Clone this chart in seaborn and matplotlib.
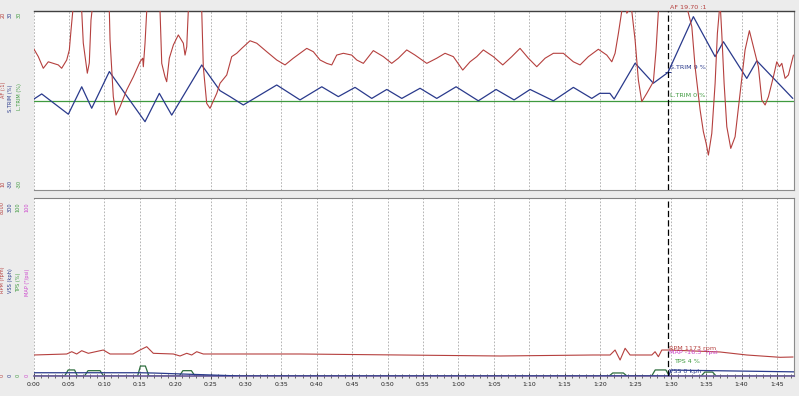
import matplotlib
matplotlib.use("Agg")
import matplotlib.pyplot as plt
import pandas as pd
import seaborn as sns
from matplotlib.ticker import MultipleLocator, FuncFormatter

# ---------------- data (time in seconds) ----------------
af_t = [0.0, 0.68, 1.38, 2.09, 2.80, 3.50, 3.98, 4.69, 5.06, 5.30, 5.54, 6.14, 6.81, 7.03, 7.60, 7.88,
        8.12, 8.26, 9.39, 10.71, 10.81, 11.27, 11.65, 12.22, 13.16, 14.10, 15.04, 15.42, 15.51, 15.75,
        15.99, 16.88, 17.87, 18.11, 18.57, 18.81, 19.18, 19.75, 20.45, 21.16, 21.40, 21.64, 21.86, 22.81,
        23.76, 23.98, 24.46, 24.93, 25.88, 26.34, 27.29, 27.99, 28.70, 29.41, 30.58, 31.53, 32.94, 34.35,
        35.52, 36.69, 37.64, 38.59, 39.52, 40.47, 41.41, 42.12, 42.82, 43.76, 44.94, 45.65, 46.58, 47.99,
        49.41, 50.59, 51.53, 52.71, 53.88, 55.54, 56.95, 58.12, 59.29, 60.62, 61.65, 62.60, 63.53, 64.94,
        66.27, 67.54, 68.71, 69.89, 71.07, 72.25, 73.42, 74.83, 76.24, 77.19, 78.36, 79.77, 80.96, 81.67,
        82.13, 82.60, 83.08, 83.40, 83.79, 84.01, 84.25, 84.49, 84.96, 85.42, 85.90, 86.61, 87.54, 87.92,
        88.25, 90.20, 92.49, 92.97, 93.43, 94.14, 94.60, 94.99, 95.31, 95.79, 96.26, 96.58, 96.96, 97.20,
        97.53, 97.91, 98.47, 99.08, 99.79, 100.49, 101.10, 101.67, 102.37, 102.85, 103.32, 103.79, 104.49,
        104.97, 105.34, 105.68, 106.14, 106.61, 107.32]
af_v = [16.33, 15.96, 15.44, 15.73, 15.66, 15.59, 15.44, 15.81, 16.26, 17.15, 17.97, 19.6, 18.0, 16.57,
        15.22, 15.68, 17.60, 18.0, 19.6, 18.0, 16.70, 14.17, 13.35, 13.72, 14.47, 15.06, 15.73, 15.89,
        15.51, 16.56, 18.0, 19.6, 18.0, 15.66, 15.06, 14.84, 15.89, 16.48, 16.93, 16.56, 16.03, 16.40,
        18.0, 19.6, 18.0, 15.51, 13.87, 13.65, 14.32, 14.77, 15.14, 15.96, 16.11, 16.33, 16.67, 16.56,
        16.18, 15.81, 15.59, 15.89, 16.11, 16.33, 16.18, 15.81, 15.66, 15.59, 16.03, 16.11, 16.03, 15.81,
        15.66, 16.23, 15.96, 15.66, 15.89, 16.26, 16.03, 15.66, 15.89, 16.11, 15.96, 15.36, 15.73, 15.96,
        16.26, 15.96, 15.59, 15.96, 16.33, 15.89, 15.51, 15.89, 16.11, 16.11, 15.73, 15.59, 15.96, 16.29,
        16.03, 15.73, 16.11, 17.00, 18.0, 19.0, 17.90, 18.0, 19.0, 18.0, 16.70, 14.92, 13.95, 14.32,
        14.84, 16.26, 18.0, 20.5, 17.90, 17.30, 15.51, 13.58, 12.61, 12.09, 11.56, 12.53, 14.77, 17.00,
        18.4, 17.00, 14.77, 12.83, 11.86, 12.38, 14.32, 16.26, 17.12, 16.40, 15.51, 14.02, 13.80, 14.17,
        15.06, 15.73, 15.51, 15.66, 14.99, 15.14, 16.03]

st_t = [0.0, 1.16, 4.92, 6.81, 8.22, 10.71, 15.75, 17.77, 19.52, 23.76, 26.34, 27.75, 29.63, 34.35,
        37.64, 40.71, 43.05, 45.41, 47.77, 49.89, 52.01, 54.59, 56.95, 59.68, 62.82, 65.33, 67.87, 70.13,
        73.42, 76.24, 78.84, 79.96, 81.40, 82.00, 84.96, 87.54, 89.60, 93.19, 96.26, 97.43, 100.73,
        102.15, 107.23]
st_v = [0.4, 2.2, -4.6, 4.6, -2.6, 9.7, -7.1, 2.4, -4.9, 11.9, 3.3, 1.3, -1.5, 5.2, 0.2, 4.6, 1.3, 4.4,
        0.7, 3.7, 0.7, 4.1, 0.7, 4.6, -0.1, 3.7, 0.2, 3.7, -0.1, 4.4, 0.7, 2.4, 2.4, 0.5, 12.5, 5.8, 9.4,
        28.1, 14.7, 19.7, 7.4, 13.3, 0.7]

lt_t = [0.0, 107.4]
lt_v = [0.0, 0.0]

rpm_t = [0.0, 4.69, 5.40, 6.10, 6.81, 7.74, 9.86, 10.81, 14.05, 15.04, 15.99, 16.92, 19.75, 20.69,
         21.64, 22.34, 23.05, 23.98, 37.64, 51.77, 65.89, 79.03, 81.43, 82.13, 82.84, 83.55, 84.25,
         87.32, 87.78, 88.25, 88.73, 89.66, 96.96, 100.73, 105.44, 107.27]
rpm_v = [944, 989, 1092, 989, 1137, 1020, 1168, 989, 989, 1168, 1317, 1020, 989, 899, 1020, 944, 1092,
         989, 989, 944, 899, 944, 944, 1168, 719, 1245, 944, 944, 1092, 867, 1168, 1168, 1079, 944, 840,
         854]

vss_t = [0.0, 15.0, 17.0, 29.3, 89.7, 90.0, 107.4]
vss_v = [5.5, 5.5, 5.0, 0.0, 0.0, 10.0, 7.0]

tps_t = [0, 4.4, 4.9, 5.8, 6.2, 7.2, 7.7, 9.4, 9.9, 14.7, 15.1, 15.8, 16.3, 20.6, 21.1, 22.3, 22.8,
         81.3, 81.8, 83.3, 83.8, 87.3, 87.8, 89.3, 89.8, 94.3, 94.8, 95.9, 96.4, 107.4]
tps_v = [0, 0, 3.4, 3.4, 0, 0, 3.0, 3.0, 0, 0, 5.6, 5.6, 0, 0, 3.0, 3.0, 0, 0, 1.7, 1.7, 0, 0, 3.4, 3.4,
         0, 0, 2.2, 2.2, 0, 0]

cursor_t = 89.6
top_labels = ["AF 19.70 :1", "S.TRIM 9 %", "L.TRIM 0 %"]
bot_labels = ["RPM 1173 rpm", "MAP -16.3 \"/psi", "TPS 4 %", "VSS 0 kph"]

# ---------------- style ----------------
sns.set_theme(style="white")
plt.rcParams['font.family'] = ['DejaVu Sans']

RED = '#b5403e'
BLUE = '#2a3a8c'
GREEN = '#3f9a3f'
DGREEN = '#2e6e3e'
MAG = '#cc44cc'
BG = '#ececec'
GRID = '#a8a8a8'

W, H = 799, 396
fig = plt.figure(figsize=(W / 100, H / 100), dpi=100, facecolor=BG)

def fx(px):
    return px / W

def fy(py):
    return 1 - py / H

X0, X1 = 33.5, 794
XMAX = 107.4
ax_top = fig.add_axes([fx(X0), fy(190), fx(X1) - fx(X0), (190 - 11) / H])
ax_bot = fig.add_axes([fx(X0), fy(376), fx(X1) - fx(X0), (376 - 198) / H])

for ax in (ax_top, ax_bot):
    ax.set_facecolor('white')
    ax.xaxis.set_major_locator(MultipleLocator(5))
    ax.grid(axis='x', color=GRID, lw=0.6, ls=(0, (2, 2)))
    ax.grid(axis='y', visible=False)
    ax.set_yticks([])
    for s in ax.spines.values():
        s.set_visible(True)
        s.set_linewidth(0.8)
    ax.spines['left'].set_visible(False)
    ax.spines['right'].set_color('#8c8c8c')

# ---- top panel ----
ax_af = ax_top.twinx()
sns.lineplot(x=lt_t, y=lt_v, ax=ax_top, color=GREEN, lw=0.9, estimator=None)
sns.lineplot(x=st_t, y=st_v, ax=ax_top, color=BLUE, lw=0.9, estimator=None)
sns.lineplot(x=af_t, y=af_v, ax=ax_af, color=RED, lw=0.8, estimator=None)
ax_top.set_ylim(-30, 30)
ax_af.set_ylim(10, 18)
ax_top.spines['top'].set_color('#404040')
ax_top.spines['top'].set_linewidth(1.0)
ax_top.spines['bottom'].set_color('#8c8c8c')
ax_top.tick_params(axis='x', length=0, labelbottom=False)

# ---- bottom panel ----
ax_rpm = ax_bot.twinx()
ax_vss = ax_bot.twinx()
sns.lineplot(x=tps_t, y=tps_v, ax=ax_bot, color=DGREEN, lw=0.9, estimator=None)
sns.lineplot(x=rpm_t, y=rpm_v, ax=ax_rpm, color=RED, lw=0.8, estimator=None)
sns.lineplot(x=vss_t, y=vss_v, ax=ax_vss, color=BLUE, lw=0.9, estimator=None)
ax_bot.set_ylim(0, 100)
ax_rpm.set_ylim(0, 8000)
ax_vss.set_ylim(0, 300)
ax_bot.spines['top'].set_color('#808080')
ax_bot.spines['bottom'].set_color('#6a5a9a')
ax_bot.spines['bottom'].set_linewidth(1.2)
ax_bot.xaxis.set_minor_locator(MultipleLocator(1))
ax_bot.xaxis.set_major_formatter(FuncFormatter(lambda v, p: f"{int(round(v)) // 60}:{int(round(v)) % 60:02d}"))
ax_bot.tick_params(axis='x', which='major', bottom=True, direction='inout', length=4, width=0.6,
                   color='#303030', labelsize=4.4, pad=2.5, labelcolor='#202020')
ax_bot.tick_params(axis='x', which='minor', bottom=True, direction='inout', length=2.5, width=0.5,
                   color='#303030')

for tw in (ax_af, ax_rpm, ax_vss):
    tw.set_yticks([])
    tw.tick_params(right=False, labelright=False)
    for s in tw.spines.values():
        s.set_visible(False)
    tw.grid(False)

for ax in (ax_top, ax_bot, ax_af, ax_rpm, ax_vss):
    ax.set_xlim(0, XMAX)
    ax.set_xlabel('')
    ax.set_ylabel('')

# cursor
for ax in (ax_af, ax_vss):
    ax.axvline(cursor_t, color='black', lw=0.9, ls=(0, (5, 2.5)), zorder=6)

fs = 4.6
ax_af.text(cursor_t + 0.35, 1.003, top_labels[0], transform=ax_af.get_xaxis_transform(),
           color=RED, fontsize=fs, va='bottom', ha='left', clip_on=False)
ax_top.text(cursor_t + 0.35, 10.9, top_labels[1], color=BLUE, fontsize=fs, va='center')
ax_top.text(cursor_t + 0.35, 1.6, top_labels[2], color=GREEN, fontsize=fs, va='center')
ax_top.plot([cursor_t], [9.4], marker='+', color=BLUE, ms=4, mew=0.7)

tr = ax_vss.get_xaxis_transform()
ax_vss.text(cursor_t + 0.2, 0.157, bot_labels[0], transform=tr, color=RED, fontsize=fs, va='center')
ax_vss.text(cursor_t + 0.2, 0.133, bot_labels[1], transform=tr, color=MAG, fontsize=fs, va='center')
ax_vss.text(cursor_t + 0.8, 0.079, bot_labels[2], transform=tr, color=GREEN, fontsize=fs, va='center')
ax_vss.text(cursor_t + 0.2, 0.028, bot_labels[3], transform=tr, color=BLUE, fontsize=fs, va='center')

# left-side axis captions (rotated)
lfs = 3.6
def vt(px, py, s, c):
    fig.text(fx(px), fy(py), s, color=c, fontsize=lfs, rotation=90, ha='center', va='center')

vt(3, 90, "AF (:1)", RED)
vt(3, 15, "20", RED)
vt(3, 184, "10", RED)
vt(10.5, 98, "S.TRIM (%)", BLUE)
vt(10.5, 15, "30", BLUE)
vt(10.5, 184, "-30", BLUE)
vt(19, 97, "L.TRIM (%)", GREEN)
vt(19, 15, "30", GREEN)
vt(19, 184, "-30", GREEN)

vt(2.5, 280, "RPM (rpm)", RED)
vt(2.5, 207, "8000", RED)
vt(2.5, 375, "0", RED)
vt(10.5, 281, "VSS (kph)", BLUE)
vt(10.5, 207, "300", BLUE)
vt(10.5, 375, "0", BLUE)
vt(18.5, 282, "TPS (%)", GREEN)
vt(18.5, 207, "100", GREEN)
vt(18.5, 375, "0", GREEN)
vt(27, 282, "MAP (\"/psi)", MAG)
vt(27, 207, "100", MAG)
vt(27, 375, "0", MAG)

fig.savefig("out.png", dpi=100, facecolor=BG)
